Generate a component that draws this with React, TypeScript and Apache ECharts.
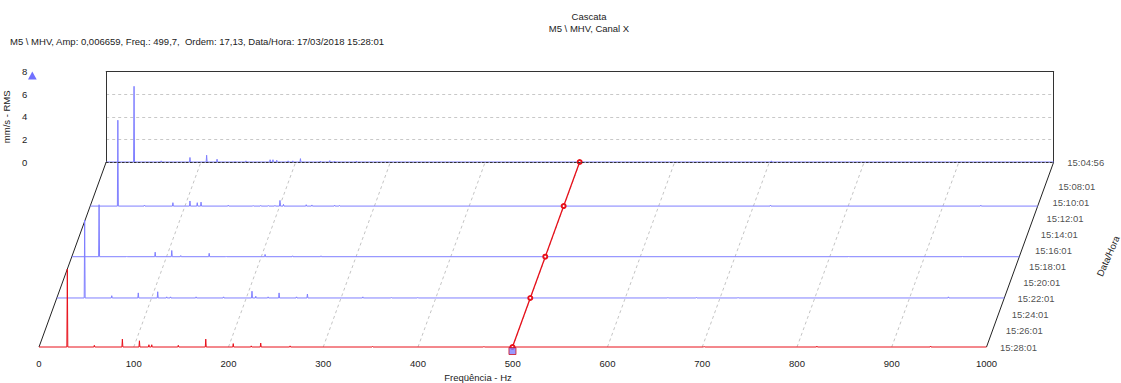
import React, { useEffect, useRef } from 'react';
import * as echarts from 'echarts';

// ---------- data ----------
const FREQ_TICKS = [0, 100, 200, 300, 400, 500, 600, 700, 800, 900, 1000];
const TIME_TICKS = ['15:04:56', '15:08:01', '15:10:01', '15:12:01', '15:14:01', '15:16:01', '15:18:01', '15:20:01', '15:22:01', '15:24:01', '15:26:01', '15:28:01'];
const SPECTRUM_TIMES = ['15:04:56', '15:10:26', '15:16:45', '15:21:54', '15:28:01'];
// peaks [Hz, mm/s RMS] of each spectrum (baseline ~0 elsewhere)
const SPEC_150456: [number, number][] = [[29.4, 6.7], [58, 0.1], [88.4, 0.4], [106, 0.6], [117, 0.25], [136, 0.05], [147.5, 0.1], [173, 0.2], [176, 0.2], [180, 0.15], [192, 0.1], [197, 0.1], [205, 0.3], [226, 0.08], [236, 0.12], [241, 0.08], [264, 0.08], [702, 0.1]];
const SPEC_151026: [number, number][] = [[29.2, 7.6], [57.3, 0.08], [87.3, 0.3], [105.3, 0.45], [113, 0.3], [117, 0.35], [145.7, 0.08], [172, 0.05], [180, 0.06], [188, 0.05], [195, 0.06], [200.3, 0.5], [204, 0.15], [228, 0.12], [234, 0.1], [258, 0.08], [263, 0.06], [718, 0.08], [940, 0.08]];
const SPEC_151645: [number, number][] = [[28.8, 4.6], [58, 0.05], [88, 0.4], [105.5, 0.55], [115, 0.1], [145, 0.3], [163, 0.05], [204, 0.2], [233, 0.08], [263, 0.08], [820, 0.06], [940, 0.06]];
const SPEC_152154: [number, number][] = [[29.4, 6.9], [58, 0.2], [86, 0.45], [106.5, 0.55], [116, 0.1], [120, 0.1], [147, 0.1], [176, 0.1], [206, 0.6], [210, 0.15], [223, 0.1], [234.6, 0.45], [253, 0.1], [264.5, 0.35], [323, 0.1], [353, 0.05], [381, 0.05], [645, 0.05], [675, 0.05], [719, 0.05], [941, 0.1]];
const SPEC_152801: [number, number][] = [[29.9, 6.9], [58.4, 0.15], [88, 0.7], [106, 0.55], [116, 0.2], [119, 0.2], [147, 0.15], [176, 0.7], [205, 0.3], [224, 0.1], [234, 0.35], [265, 0.1], [352, 0.05], [469.6, 0.05], [702, 0.05], [821, 0.08], [941, 0.08]];
const SPECTRA = [SPEC_150456, SPEC_151026, SPEC_151645, SPEC_152154, SPEC_152801];
const TRACK_FREQ = 499.7;
const AMP_MAX = 8;
const FREQ_MAX = 1000;

// ---------- layout ----------
const X_LEFT = 39;
const X_RIGHT_FRONT = 986.5;
const DEPTH_PX_X = 67.2;
const DEPTH_PX_Y = 185;
const BASE_Y = 347;
const PX_PER_AMP = 11.3;
const PX_PER_HZ = (X_RIGHT_FRONT - X_LEFT) / FREQ_MAX;
const DEPTH_HZ = DEPTH_PX_X / PX_PER_HZ;
const DEPTH_AMP = DEPTH_PX_Y / PX_PER_AMP;
const GRID_TOP = BASE_Y - DEPTH_PX_Y - AMP_MAX * PX_PER_AMP;
const FONT = 'Liberation Sans, Arial, sans-serif';
const BLUE = '#7f7fff';
const RED = '#e8101a';
const TXT = '#222';

const toSec = (t: string) => {
  const [h, m, s] = t.split(':').map(Number);
  return h * 3600 + m * 60 + s;
};
const T_START = toSec(TIME_TICKS[0]);
const T_END = toSec(TIME_TICKS[TIME_TICKS.length - 1]);
const depth = (t: string) => (T_END - toSec(t)) / (T_END - T_START);

const PEAK_HALF = 0.5;
const buildLine = (peaks: [number, number][], d: number) => {
  const ox = d * DEPTH_HZ;
  const oy = d * DEPTH_AMP;
  const pts: number[][] = [[0 + ox, oy]];
  peaks
    .slice()
    .sort((a, b) => a[0] - b[0])
    .forEach(([f, a]) => {
      pts.push([f - PEAK_HALF + ox, oy], [f + ox, a + oy], [f + PEAK_HALF + ox, oy]);
    });
  pts.push([FREQ_MAX + ox, oy]);
  return pts;
};

export default function App() {
  const ref = useRef<HTMLDivElement>(null);
  useEffect(() => {
    if (!ref.current) return;
    const chart = echarts.init(ref.current, undefined, { renderer: 'svg' });

    const spectraSeries = SPECTRA.map((peaks, i) => {
      const d = depth(SPECTRUM_TIMES[i]);
      const isFront = i === SPECTRA.length - 1;
      return {
        type: 'line',
        name: SPECTRUM_TIMES[i],
        xAxisIndex: 0,
        yAxisIndex: 0,
        data: buildLine(peaks, d),
        showSymbol: false,
        symbol: 'none',
        silent: true,
        clip: false,
        z: 3 + i * 0.01,
        lineStyle: { color: isFront ? RED : BLUE, width: 1 },
      };
    });

    const gridLines = FREQ_TICKS.filter((f) => f > 0 && f < FREQ_MAX).map((f) => ({
      coords: [[f, 0], [f + DEPTH_HZ, DEPTH_AMP]],
    }));
    const edges = [0, FREQ_MAX].map((f) => ({ coords: [[f, 0], [f + DEPTH_HZ, DEPTH_AMP]] }));

    chart.setOption({
      animation: false,
      textStyle: { fontFamily: FONT },
      grid: [
        {
          left: X_LEFT,
          top: GRID_TOP,
          width: X_RIGHT_FRONT - X_LEFT + DEPTH_PX_X,
          height: BASE_Y - GRID_TOP,
          outerBoundsMode: 'none',
          containLabel: false,
        },
        {
          left: X_LEFT + DEPTH_PX_X,
          top: GRID_TOP,
          width: X_RIGHT_FRONT - X_LEFT,
          height: AMP_MAX * PX_PER_AMP,
          outerBoundsMode: 'none',
          containLabel: false,
        },
      ],
      xAxis: [
        {
          type: 'value',
          gridIndex: 0,
          min: 0,
          max: FREQ_MAX + DEPTH_HZ,
          interval: 100,
          axisLine: { show: false },
          axisTick: { show: false },
          splitLine: { show: false },
          axisLabel: {
            margin: 11,
            fontSize: 9.5,
            color: TXT,
            fontFamily: FONT,
            showMaxLabel: false,
            formatter: (v: number) => (FREQ_TICKS.includes(v) ? String(v) : ''),
          },
        },
        {
          type: 'value',
          gridIndex: 1,
          min: 0,
          max: FREQ_MAX,
          position: 'bottom',
          z: 10,
          axisLine: { show: true, onZero: false, lineStyle: { color: '#333', width: 1, type: [2, 2] } },
          axisTick: { show: false },
          axisLabel: { show: false },
          splitLine: { show: false },
        },
        {
          type: 'value',
          gridIndex: 1,
          min: 0,
          max: FREQ_MAX,
          position: 'top',
          axisLine: { show: true, onZero: false, lineStyle: { color: '#333', width: 1 } },
          axisTick: { show: false },
          axisLabel: { show: false },
          splitLine: { show: false },
        },
      ],
      yAxis: [
        {
          type: 'value',
          gridIndex: 0,
          min: 0,
          max: DEPTH_AMP + AMP_MAX,
          show: false,
        },
        {
          type: 'value',
          gridIndex: 1,
          min: 0,
          max: AMP_MAX,
          interval: 2,
          position: 'left',
          name: 'mm/s - RMS',
          nameLocation: 'middle',
          nameGap: 88,
          nameRotate: 90,
          nameTextStyle: { fontSize: 9.5, color: TXT, fontFamily: FONT },
          axisLine: { show: true, onZero: false, lineStyle: { color: '#333', width: 1 } },
          axisTick: { show: false },
          axisLabel: { margin: 79, fontSize: 9.5, color: TXT, fontFamily: FONT },
          splitLine: { show: true, lineStyle: { color: '#c8c8c8', type: [3, 3], width: 1 } },
        },
        {
          type: 'value',
          gridIndex: 1,
          min: 0,
          max: AMP_MAX,
          position: 'right',
          axisLine: { show: true, onZero: false, lineStyle: { color: '#333', width: 1 } },
          axisTick: { show: false },
          axisLabel: { show: false },
          splitLine: { show: false },
        },
      ],
      series: [
        {
          type: 'lines',
          coordinateSystem: 'cartesian2d',
          xAxisIndex: 0,
          yAxisIndex: 0,
          silent: true,
          z: 1,
          lineStyle: { color: '#c4c4c4', width: 1, type: [3, 3], opacity: 1 },
          data: gridLines,
        },
        {
          type: 'lines',
          coordinateSystem: 'cartesian2d',
          xAxisIndex: 0,
          yAxisIndex: 0,
          silent: true,
          z: 2,
          lineStyle: { color: '#222', width: 1, opacity: 1 },
          data: edges,
        },
        ...spectraSeries,
        {
          type: 'line',
          xAxisIndex: 0,
          yAxisIndex: 0,
          z: 5,
          silent: true,
          clip: false,
          data: SPECTRUM_TIMES.map((t) => {
            const d = depth(t);
            return [TRACK_FREQ + d * DEPTH_HZ, d * DEPTH_AMP];
          }),
          symbol: 'emptyCircle',
          symbolSize: 4,
          showSymbol: true,
          itemStyle: { color: RED, borderColor: RED, borderWidth: 1 },
          lineStyle: { color: RED, width: 1.3 },
        },
        {
          type: 'scatter',
          xAxisIndex: 0,
          yAxisIndex: 0,
          z: 6,
          silent: true,
          clip: false,
          data: [[TRACK_FREQ, 0]],
          symbol: 'rect',
          symbolSize: 7,
          symbolOffset: [0, 4],
          itemStyle: { color: '#7f7fff', borderColor: '#d01020', borderWidth: 1 },
        },
        {
          type: 'scatter',
          xAxisIndex: 0,
          yAxisIndex: 0,
          z: 6,
          silent: true,
          clip: false,
          symbol: 'circle',
          symbolSize: 1,
          itemStyle: { color: 'rgba(0,0,0,0)' },
          label: {
            show: true,
            position: 'right',
            distance: 13,
            formatter: '{b}',
            fontSize: 9.5,
            color: TXT,
            fontFamily: FONT,
          },
          labelLayout: { hideOverlap: false },
          data: TIME_TICKS.map((t) => {
            const d = depth(t);
            return { name: t, value: [FREQ_MAX + d * DEPTH_HZ, d * DEPTH_AMP] };
          }),
        },
      ],
      graphic: [
        {
          type: 'text',
          x: 589,
          y: 16,
          style: { text: 'Cascata', align: 'center', verticalAlign: 'middle', fontSize: 9.5, fontFamily: FONT, fill: TXT },
        },
        {
          type: 'text',
          x: 589,
          y: 28,
          style: { text: 'M5 \\ MHV, Canal X', align: 'center', verticalAlign: 'middle', fontSize: 9.5, fontFamily: FONT, fill: TXT },
        },
        {
          type: 'text',
          x: 10,
          y: 41,
          style: {
            text: 'M5 \\ MHV, Amp: 0,006659, Freq.: 499,7,  Ordem: 17,13, Data/Hora: 17/03/2018 15:28:01',
            align: 'left',
            verticalAlign: 'middle',
            fontSize: 9.5,
            fontFamily: FONT,
            fill: TXT,
          },
        },
        {
          type: 'text',
          x: 478,
          y: 377,
          style: { text: 'Freqüência - Hz', align: 'center', verticalAlign: 'middle', fontSize: 9.5, fontFamily: FONT, fill: TXT },
        },
        {
          type: 'text',
          x: 1108,
          y: 256,
          rotation: (66 * Math.PI) / 180,
          style: { text: 'Data/Hora', align: 'center', verticalAlign: 'middle', fontSize: 9.5, fontFamily: FONT, fill: TXT },
        },
        {
          type: 'polygon',
          shape: { points: [[28, 79.5], [36.7, 79.5], [32.3, 71.5]] },
          style: { fill: '#7070ff' },
        },
      ],
    });
    return () => chart.dispose();
  }, []);
  return <div ref={ref} style={{ position: 'absolute', left: 0, top: 0, width: 1121, height: 383 }} />;
}
